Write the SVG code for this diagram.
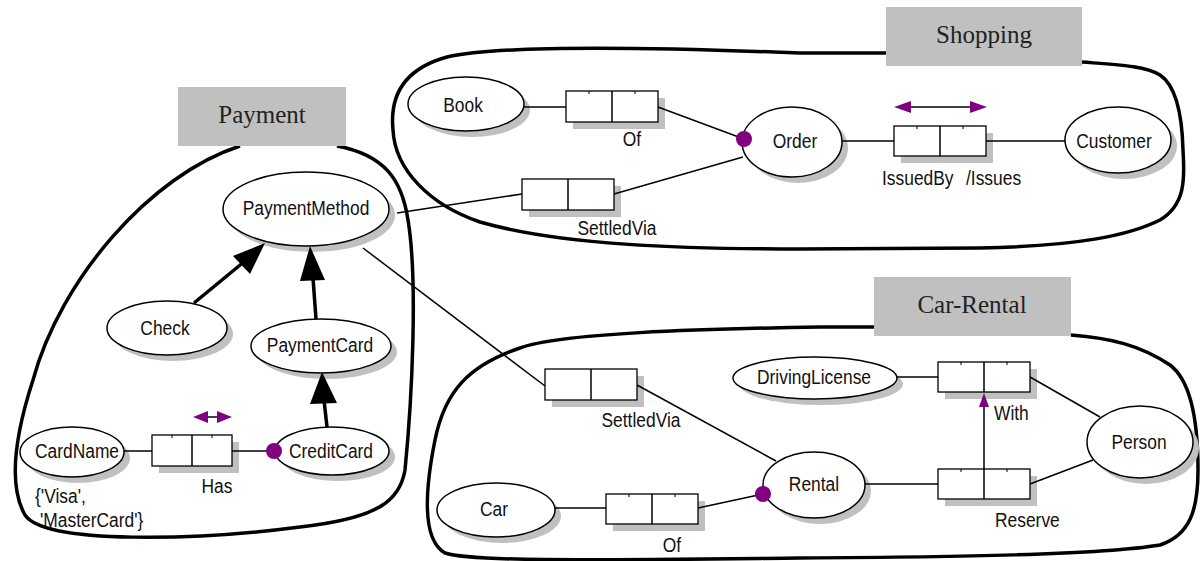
<svg xmlns="http://www.w3.org/2000/svg" width="1203" height="561" viewBox="0 0 1203 561">
<style>
.bound{fill:none;stroke:#000;stroke-width:3.5;stroke-linejoin:round}
.lbl{fill:#c0c0c0;stroke:none}
.lt{font-family:'Liberation Serif','Times New Roman',serif;font-size:25px;fill:#222;text-anchor:middle}
.shd{fill:#c0c0c0;stroke:none}
.el{fill:#fff;stroke:#000;stroke-width:1.5}
.box{fill:#fff;stroke:#000;stroke-width:1.3}
.t{font-family:'Liberation Sans',Arial,sans-serif;font-size:20px;fill:#111;text-anchor:middle}
.ts{text-anchor:start}
.ln{fill:none;stroke:#000;stroke-width:1.5}
.thick{fill:none;stroke:#000;stroke-width:3.5}
.dot{fill:#800080}
.pa{fill:#800080;stroke:none}
.tick{stroke:#000;stroke-width:1}
</style>

<g id="boundaries">
<path class="bound" d="M240,146 C150,175 60,280 33,380 C20,420 5,480 25,515 C45,545 200,540 300,527 C380,518 400,500 405,470 C412,400 418,280 408,220 C402,180 385,155 337,146"/>
<path class="bound" d="M886,53 L800,53 C650,47 500,45 447,57 C400,70 390,100 393,130 C395,170 430,205 480,222 C560,245 680,249 800,249 L980,248 C1080,246 1130,235 1160,220 C1185,205 1185,180 1183,150 C1182,110 1175,85 1160,75 C1145,66 1120,65 1082,62"/>
<path class="bound" d="M874,327 L820,327 C700,329 560,333 520,348 C470,365 445,390 435,440 C425,490 422,540 445,553 C470,562 600,560 800,558 C950,557 1100,555 1160,545 C1190,535 1198,510 1198,470 C1198,420 1190,380 1170,365 C1140,345 1110,338 1071,335"/>
</g>

<g id="label-payment"><rect class="lbl" x="178" y="87" width="168" height="59"/><text class="lt" x="262" y="123">Payment</text></g>
<g id="label-shopping"><rect class="lbl" x="886" y="7" width="196" height="59"/><text class="lt" x="984" y="43">Shopping</text></g>
<g id="label-carrental"><rect class="lbl" x="874" y="277" width="197" height="59"/><text class="lt" x="972" y="313">Car-Rental</text></g>

<g id="shadows">
<rect class="shd" x="529" y="186" width="92" height="31"/>
<rect class="shd" x="573" y="98" width="92" height="31"/>
<rect class="shd" x="901" y="133" width="92" height="30"/>
<rect class="shd" x="159" y="442" width="80" height="31"/>
<rect class="shd" x="552" y="376" width="92" height="31"/>
<rect class="shd" x="945" y="369" width="92" height="30"/>
<rect class="shd" x="945" y="476" width="92" height="30"/>
<rect class="shd" x="613" y="501" width="92" height="30"/>
<ellipse class="shd" cx="312" cy="215" rx="83" ry="37"/>
<ellipse class="shd" cx="173" cy="334" rx="60" ry="27"/>
<ellipse class="shd" cx="327" cy="352" rx="70" ry="27"/>
<ellipse class="shd" cx="78" cy="458" rx="52" ry="25"/>
<ellipse class="shd" cx="338" cy="457" rx="57" ry="24"/>
<ellipse class="shd" cx="472" cy="110" rx="58" ry="27"/>
<ellipse class="shd" cx="798" cy="148" rx="50" ry="35"/>
<ellipse class="shd" cx="1124" cy="146" rx="53" ry="33"/>
<ellipse class="shd" cx="821" cy="384" rx="82" ry="21"/>
<ellipse class="shd" cx="1146" cy="448" rx="53" ry="36"/>
<ellipse class="shd" cx="820" cy="491" rx="51" ry="33"/>
<ellipse class="shd" cx="502" cy="516" rx="59" ry="27"/>
</g>

<g id="connectors">
<line class="ln" x1="397" y1="213" x2="522" y2="194"/>
<line class="ln" x1="614" y1="194" x2="743" y2="157"/>
<line class="ln" x1="363" y1="248" x2="545" y2="386"/>
<line class="ln" x1="637" y1="385" x2="776" y2="461"/>
<line class="ln" x1="524" y1="107" x2="566" y2="107"/>
<line class="ln" x1="658" y1="107" x2="744" y2="139"/>
<line class="ln" x1="842" y1="141" x2="894" y2="141"/>
<line class="ln" x1="986" y1="141" x2="1065" y2="141"/>
<line class="ln" x1="124" y1="451" x2="152" y2="451"/>
<line class="ln" x1="232" y1="451" x2="274" y2="451"/>
<line class="ln" x1="897" y1="377" x2="938" y2="377"/>
<line class="ln" x1="1030" y1="377" x2="1100" y2="417"/>
<line class="ln" x1="865" y1="484" x2="938" y2="484"/>
<line class="ln" x1="1030" y1="484" x2="1093" y2="460"/>
<line class="ln" x1="555" y1="508" x2="606" y2="508"/>
<line class="ln" x1="698" y1="508" x2="763" y2="494"/>
<line class="thick" x1="194" y1="303" x2="245" y2="261"/>
<polygon points="265,243 233,256 250,274" fill="#000"/>
<line class="thick" x1="316" y1="319" x2="313" y2="278"/>
<polygon points="310,246 300,281 325,280" fill="#000"/>
<line class="thick" x1="327" y1="427" x2="324" y2="400"/>
<polygon points="322,372 310,404 337,403" fill="#000"/>
<line class="ln" x1="207" y1="417" x2="218" y2="417" stroke-width="1"/>
<polygon class="pa" points="193,417 208,411 208,423"/>
<polygon class="pa" points="232,417 217,411 217,423"/>
<line class="ln" x1="909" y1="107" x2="972" y2="107" stroke-width="1.3"/>
<polygon class="pa" points="894,107 911,101 911,113"/>
<polygon class="pa" points="987,107 970,101 970,113"/>
</g>

<g id="fact-settledvia-shop">
<rect class="box" x="522" y="179" width="92" height="31"/><line class="ln" x1="568" y1="179" x2="568" y2="210"/>
<text class="t" transform="translate(617,235) scale(0.87,1)">SettledVia</text>
</g>
<g id="fact-of-shop">
<rect class="box" x="566" y="91" width="92" height="31"/><line class="ln" x1="612" y1="91" x2="612" y2="122"/>
<line class="tick" x1="589" y1="91" x2="589" y2="94"/><line class="tick" x1="635" y1="91" x2="635" y2="94"/>
<text class="t" transform="translate(632,146) scale(0.87,1)">Of</text>
</g>
<g id="fact-issuedby">
<rect class="box" x="894" y="126" width="92" height="30"/><line class="ln" x1="940" y1="126" x2="940" y2="156"/>
<line class="tick" x1="917" y1="126" x2="917" y2="129"/><line class="tick" x1="963" y1="126" x2="963" y2="129"/>
<text class="t ts" transform="translate(882,185) scale(0.87,1)">IssuedBy</text>
<text class="t ts" transform="translate(966,185) scale(0.87,1)">/Issues</text>
</g>
<g id="fact-has">
<rect class="box" x="152" y="435" width="80" height="31"/><line class="ln" x1="192" y1="435" x2="192" y2="466"/>
<line class="tick" x1="172" y1="435" x2="172" y2="438"/><line class="tick" x1="212" y1="435" x2="212" y2="438"/>
<text class="t" transform="translate(217,493) scale(0.87,1)">Has</text>
</g>
<g id="fact-settledvia-rent">
<rect class="box" x="545" y="369" width="92" height="31"/><line class="ln" x1="591" y1="369" x2="591" y2="400"/>
<text class="t" transform="translate(641,427) scale(0.87,1)">SettledVia</text>
</g>
<g id="fact-with">
<rect class="box" x="938" y="362" width="92" height="30"/><line class="ln" x1="984" y1="362" x2="984" y2="392"/>
<line class="tick" x1="961" y1="362" x2="961" y2="365"/><line class="tick" x1="1007" y1="362" x2="1007" y2="365"/>
<text class="t ts" transform="translate(994,420) scale(0.87,1)">With</text>
</g>
<g id="fact-reserve">
<rect class="box" x="938" y="469" width="92" height="30"/><line class="ln" x1="984" y1="469" x2="984" y2="499"/>
<line class="tick" x1="961" y1="469" x2="961" y2="472"/><line class="tick" x1="1007" y1="469" x2="1007" y2="472"/>
<text class="t ts" transform="translate(995,527) scale(0.87,1)">Reserve</text>
</g>
<g id="fact-of-rent">
<rect class="box" x="606" y="494" width="92" height="30"/><line class="ln" x1="652" y1="494" x2="652" y2="524"/>
<line class="tick" x1="629" y1="494" x2="629" y2="497"/><line class="tick" x1="675" y1="494" x2="675" y2="497"/>
<text class="t" transform="translate(672,552) scale(0.87,1)">Of</text>
</g>
<g id="subset-arrow">
<line class="ln" x1="984" y1="469" x2="984" y2="405"/>
<polygon class="pa" points="984,393 979,407 989,407"/>
</g>

<g id="PaymentMethod"><ellipse class="el" cx="306" cy="209" rx="83" ry="37"/><text class="t" transform="translate(306,215) scale(0.87,1)">PaymentMethod</text></g>
<g id="Check"><ellipse class="el" cx="167" cy="328" rx="60" ry="27"/><text class="t" transform="translate(165,335) scale(0.87,1)">Check</text></g>
<g id="PaymentCard"><ellipse class="el" cx="321" cy="346" rx="70" ry="27"/><text class="t" transform="translate(320,352) scale(0.87,1)">PaymentCard</text></g>
<g id="CardName"><ellipse class="el" cx="72" cy="452" rx="52" ry="25"/><text class="t" transform="translate(77,458) scale(0.87,1)">CardName</text>
<text class="t ts" transform="translate(35,503) scale(0.87,1)">{'Visa',</text><text class="t ts" transform="translate(40,527) scale(0.87,1)">'MasterCard'}</text></g>
<g id="CreditCard"><ellipse class="el" cx="332" cy="451" rx="57" ry="24"/><text class="t" transform="translate(331,458) scale(0.87,1)">CreditCard</text><circle class="dot" cx="274" cy="451" r="8"/></g>
<g id="Book"><ellipse class="el" cx="466" cy="104" rx="58" ry="27"/><text class="t" transform="translate(463,112) scale(0.87,1)">Book</text></g>
<g id="Order"><ellipse class="el" cx="792" cy="142" rx="50" ry="35"/><text class="t" transform="translate(795,148) scale(0.87,1)">Order</text><circle class="dot" cx="744" cy="139" r="8"/></g>
<g id="Customer"><ellipse class="el" cx="1118" cy="140" rx="53" ry="33"/><text class="t" transform="translate(1114,148) scale(0.87,1)">Customer</text></g>
<g id="DrivingLicense"><ellipse class="el" cx="815" cy="378" rx="82" ry="21"/><text class="t" transform="translate(814,384) scale(0.87,1)">DrivingLicense</text></g>
<g id="Person"><ellipse class="el" cx="1140" cy="442" rx="53" ry="36"/><text class="t" transform="translate(1139,449) scale(0.87,1)">Person</text></g>
<g id="Rental"><ellipse class="el" cx="814" cy="485" rx="51" ry="33"/><text class="t" transform="translate(814,491) scale(0.87,1)">Rental</text><circle class="dot" cx="763" cy="494" r="8"/></g>
<g id="Car"><ellipse class="el" cx="496" cy="510" rx="59" ry="27"/><text class="t" transform="translate(494,516) scale(0.87,1)">Car</text></g>
</svg>
